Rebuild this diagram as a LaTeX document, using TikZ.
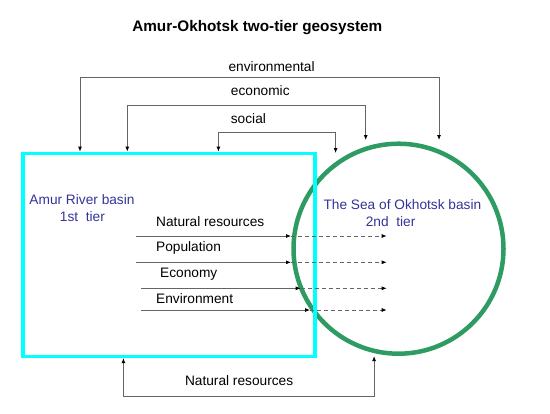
\documentclass[tikz,border=0pt]{standalone}
\usepackage{fontspec}
\setmainfont{Liberation Sans}
\usetikzlibrary{arrows.meta}
\definecolor{boxcyan}{RGB}{0,255,255}
\definecolor{seagreen}{RGB}{46,155,99}
\definecolor{tierblue}{RGB}{51,51,153}
\definecolor{linegray}{RGB}{100,100,100}
\begin{document}
\begin{tikzpicture}[x=1bp,y=-1bp,
  tip/.tip={Latex[length=5bp,width=4bp,black]},
  lbl/.style={font=\fontsize{13.7bp}{16bp}\selectfont, inner sep=0pt},
  tierlbl/.style={lbl, text=tierblue},
  link/.style={draw=linegray, line width=0.8bp},
  biarrow/.style={link, tip-tip},
  flow/.style={link, -tip},
  dflow/.style={link, -tip, dash pattern=on 4bp off 3bp},
]
\useasboundingbox (0,0) rectangle (550,413);
% title
\node[font=\fontsize{15.3bp}{18bp}\selectfont\bfseries, inner sep=0pt] (title) at (257.3,28) {Amur-Okhotsk two-tier geosystem};
% main shapes
\node[draw=seagreen, line width=4.5bp, circle, minimum size=210bp, inner sep=0pt] (okh) at (398.5,248.7) {};
\node[draw=boxcyan, line width=3.5bp, minimum width=292bp, minimum height=203bp, inner sep=0pt, anchor=north west] (amur) at (21,151.6) {};
% tier labels
\node[tierlbl] (amurA) at (82,199.6) {Amur River basin};
\node[tierlbl] (amurB) at (82.4,216.4) {1st\ \ tier};
\node[tierlbl] (okhA) at (402.4,204.2) {The Sea of Okhotsk basin};
\node[tierlbl] (okhB) at (390.6,221.3) {2nd\ \ tier};
% top links
\coordinate (envx) at (80,0);
\coordinate (ecox) at (127.3,0);
\coordinate (socx) at (218.4,0);
\coordinate (envR) at (439,140);
\coordinate (ecoR) at (365.7,140);
\coordinate (socR) at (335.6,153);
\draw[biarrow] (amur.north -| envx) -- (80,77.3) -- (439,77.3) -- (envR);
\draw[biarrow] (amur.north -| ecox) -- (127.3,105) -- (365.7,105) -- (ecoR);
\draw[biarrow] (amur.north -| socx) -- (218.4,132.4) -- (335.6,132.4) -- (socR);
\node[lbl] (envl) at (271.6,66.5) {environmental};
\node[lbl] (ecol) at (260.3,91) {economic};
\node[lbl] (socl) at (248.4,118.4) {social};
% flows
\coordinate (f1s) at (136,236);   \coordinate (f1m) at (291,236);   \coordinate (f1e) at (386.7,236);
\coordinate (f2s) at (136,262.3); \coordinate (f2m) at (291,262.3); \coordinate (f2e) at (386.7,262.3);
\coordinate (f3s) at (141,288.3); \coordinate (f3m) at (300.7,288.3); \coordinate (f3e) at (386.7,288.3);
\coordinate (f4s) at (141,310);   \coordinate (f4m) at (310,310);   \coordinate (f4e) at (386.7,310);
\draw[flow] (f1s) -- (f1m); \draw[dflow] (f1m) -- (f1e);
\draw[flow] (f2s) -- (f2m); \draw[dflow] (f2m) -- (f2e);
\draw[flow] (f3s) -- (f3m); \draw[dflow] (f3m) -- (f3e);
\draw[flow] (f4s) -- (f4m); \draw[dflow] (f4m) -- (f4e);
\node[lbl, anchor=west] (n1) at (156,221.7) {Natural resources};
\node[lbl, anchor=west] (n2) at (156,248) {Population};
\node[lbl, anchor=west] (n3) at (160,274) {Economy};
\node[lbl, anchor=west] (n4) at (156,299) {Environment};
% bottom link
\coordinate (botx) at (123.4,0);
\coordinate (botR) at (374.1,356.1);
\draw[biarrow] (amur.south -| botx) -- (123.4,396) -- (374.1,396) -- (botR);
\node[lbl] (botl) at (239.1,380.7) {Natural resources};
\end{tikzpicture}
\end{document}
